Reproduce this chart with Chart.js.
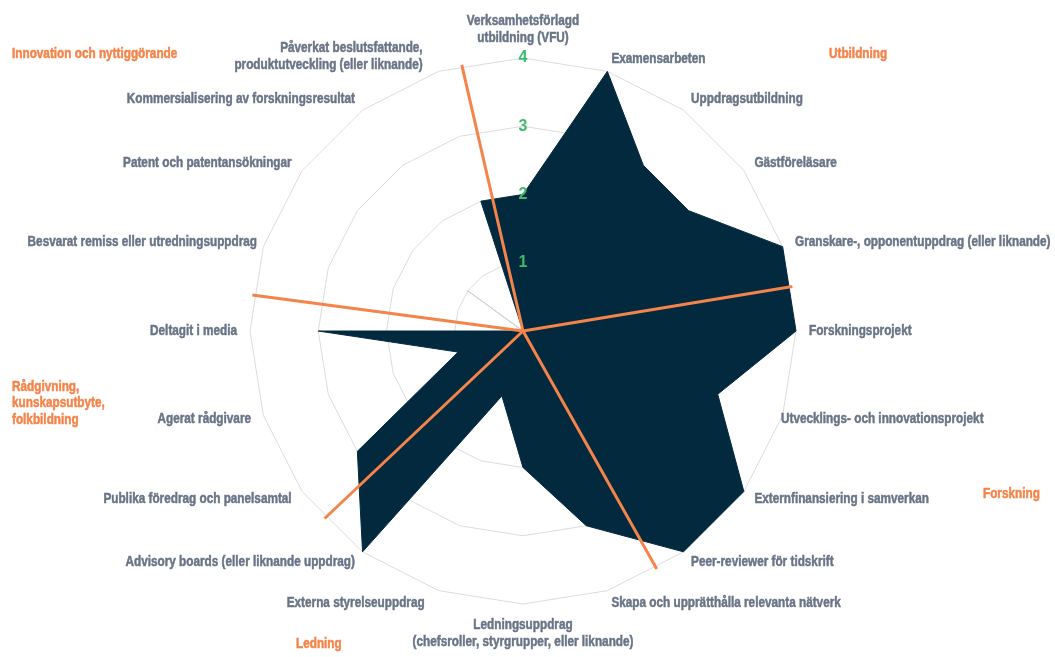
<!DOCTYPE html>
<html lang="sv">
<head>
<meta charset="utf-8">
<title>Samverkan</title>
<script src="https://cdn.jsdelivr.net/npm/chart.js@4.4.1/dist/chart.umd.min.js"></script>
<style>
  html, body { margin: 0; padding: 0; background: #fff; }
  #wrap { width: 1055px; height: 657px; position: relative; }
</style>
</head>
<body>
<div id="wrap"><canvas id="radar"></canvas></div>
<script>
// Axes, clockwise from the top
const activities = [
  ['Verksamhetsförlagd', 'utbildning (VFU)'],
  'Examensarbeten',
  'Uppdragsutbildning',
  'Gästföreläsare',
  'Granskare-, opponentuppdrag (eller liknande)',
  'Forskningsprojekt',
  'Utvecklings- och innovationsprojekt',
  'Externfinansiering i samverkan',
  'Peer-reviewer för tidskrift',
  'Skapa och upprätthålla relevanta nätverk',
  ['Ledningsuppdrag', '(chefsroller, styrgrupper, eller liknande)'],
  'Externa styrelseuppdrag',
  'Advisory boards (eller liknande uppdrag)',
  'Publika föredrag och panelsamtal',
  'Agerat rådgivare',
  'Deltagit i media',
  'Besvarat remiss eller utredningsuppdrag',
  'Patent och patentansökningar',
  'Kommersialisering av forskningsresultat',
  ['Påverkat beslutsfattande,', 'produktutveckling (eller liknande)']
];

const scores = [2, 4, 3, 3, 4, 4, 3, 4, 4, 3, 2, 1, 4, 3, 1, 3, 0, 0, 0, 2];
// faint thin line seen along one axis
const reference = [0, 0, 0, 0, 0, 0, 0, 0, 0, 0, 0, 0, 0, 0, 0, 0, 0, 1, 0, 0];

const tickValues = [0, 1, 2, 3, 4];

// Category groups and where the orange dividers sit (in axis-index units)
const categories = ['Innovation och nyttiggörande', 'Utbildning', 'Forskning', 'Ledning',
  ['Rådgivning,', 'kunskapsutbyte,', 'folkbildning']];
const dividerAt = [-0.72, 4.48, 8.37, 12.59, 15.42];

const labelFont = "bold 14px 'Liberation Sans', Arial, sans-serif";
const squeeze = 0.84;   // labels are set in a condensed face
const lineH = 17;
// small hand nudges of a few labels, px: [index, dx, dy]
const labelNudge = [[0, 0, 2], [6, -14, 0], [11, -10, 0], [16, 6, 0], [19, -12, -2]];
const navy = '#03293f';
const orange = '#f5844a';

function heavyText(ctx, text, x, y) {
  ctx.fillText(text, x, y);
  ctx.strokeText(text, x, y);
}

// Orange divider lines between the category groups
const dividers = {
  id: 'dividers',
  afterDatasetsDraw(chart) {
    const scale = chart.scales.r;
    const ctx = chart.ctx;
    const max = tickValues[tickValues.length - 1];
    ctx.save();
    ctx.strokeStyle = orange;
    ctx.lineWidth = 3;
    dividerAt.forEach(idx => {
      const p = scale.getPointPositionForValue(idx, max);
      ctx.beginPath();
      ctx.moveTo(scale.xCenter, scale.yCenter);
      ctx.lineTo(p.x, p.y);
      ctx.stroke();
    });
    ctx.restore();
  }
};

// Axis labels, drawn condensed around the web
const axisLabels = {
  id: 'axisLabels',
  afterDraw(chart) {
    const scale = chart.scales.r;
    const ctx = chart.ctx;
    const n = activities.length;
    ctx.save();
    ctx.font = labelFont;
    ctx.fillStyle = '#6a7487';
    ctx.strokeStyle = '#6a7487';
    ctx.lineWidth = 0.5;
    ctx.textBaseline = 'middle';
    activities.forEach((lab, i) => {
      const lines = Array.isArray(lab) ? lab : [lab];
      const deg = i * 360 / n;
      const p = scale.getPointPosition(i, scale.drawingArea + 13);
      const nudge = labelNudge.find(d => d[0] === i) || [i, 0, 0];
      const x = p.x + nudge[1];
      const h = lines.length * lineH;
      let top;
      if (deg === 0) { ctx.textAlign = 'center'; top = p.y - h; }
      else if (deg === 180) { ctx.textAlign = 'center'; top = p.y; }
      else { ctx.textAlign = deg < 180 ? 'left' : 'right'; top = p.y - h / 2; }
      top += nudge[2];
      ctx.save();
      ctx.scale(squeeze, 1);
      lines.forEach((line, j) => heavyText(ctx, line, x / squeeze, top + lineH * (j + 0.5)));
      ctx.restore();
    });
    ctx.restore();
  }
};

// Category headings in orange
const categoryTitles = {
  id: 'categoryTitles',
  afterDraw(chart) {
    const ctx = chart.ctx;
    const spots = [[12, 54], [829, 54], [983, 494], [296, 644], [12, 387]];
    ctx.save();
    ctx.fillStyle = orange;
    ctx.strokeStyle = orange;
    ctx.lineWidth = 0.5;
    ctx.font = labelFont;
    ctx.textAlign = 'left';
    ctx.textBaseline = 'middle';
    ctx.scale(squeeze, 1);
    categories.forEach((name, i) => {
      const lines = Array.isArray(name) ? name : [name];
      lines.forEach((line, j) => heavyText(ctx, line, spots[i][0] / squeeze, spots[i][1] + j * 16.5));
    });
    ctx.restore();
  }
};

new Chart(document.getElementById('radar'), {
  type: 'radar',
  data: {
    labels: activities,
    datasets: [{
      label: 'Samverkan',
      data: scores,
      backgroundColor: navy,
      borderColor: navy,
      borderWidth: 1,
      fill: true,
      pointRadius: 0,
      pointHoverRadius: 0
    }, {
      label: 'Referens',
      data: reference,
      backgroundColor: 'rgba(0,0,0,0)',
      borderColor: '#c6ced6',
      borderWidth: 1,
      fill: false,
      pointRadius: 0
    }]
  },
  options: {
    responsive: true,
    maintainAspectRatio: false,
    animation: false,
    layout: { padding: { top: 48, bottom: 43, left: 0, right: 9 } },
    plugins: {
      legend: { display: false },
      tooltip: { enabled: false }
    },
    scales: {
      r: {
        min: tickValues[0],
        max: tickValues[tickValues.length - 1],
        angleLines: { display: false },
        grid: { color: '#dcdcdc', lineWidth: 1, circular: false },
        ticks: {
          stepSize: 1,
          z: 1,
          showLabelBackdrop: false,
          color: '#3dba6b',
          font: { family: "'Liberation Sans', Arial, sans-serif", size: 16, weight: 'bold' }
        },
        pointLabels: { display: false }
      }
    }
  },
  plugins: [dividers, axisLabels, categoryTitles]
});
</script>
</body>
</html>
